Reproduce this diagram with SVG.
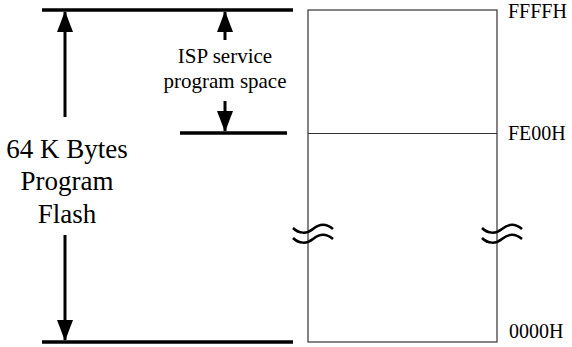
<svg xmlns="http://www.w3.org/2000/svg" width="572" height="347" viewBox="0 0 572 347">
<style>
.t{font-family:"Liberation Serif","Times New Roman",serif;fill:#000}
.thick{stroke:#000;stroke-width:3.5;fill:none}
.shaft{stroke:#000;stroke-width:3;fill:none}
.thin{stroke:#333;stroke-width:1.2;fill:none}
.wave{stroke:#000;stroke-width:2.5;fill:none}
</style>
<defs>
<marker id="ah" viewBox="0 0 21 16" refX="20" refY="8" markerUnits="userSpaceOnUse" markerWidth="21" markerHeight="16" orient="auto">
<path d="M0,0 L21,8 L0,16 Z" fill="#000"/>
</marker>
</defs>
<rect width="572" height="347" fill="#fff"/>
<g id="memory">
<rect x="308" y="10" width="189" height="332" class="thin"/>
<line x1="308" y1="133.5" x2="497" y2="133.5" class="thin"/>
</g>
<g id="breaks">
<path class="wave" d="M293,228 C299,234 307,234 313,229 C319,224 326,223 333,229"/>
<path class="wave" d="M293,238 C299,244 307,244 313,239 C319,234 326,233 333,239"/>
<path class="wave" d="M482,228 C488,234 496,234 502,229 C508,224 515,223 522,229"/>
<path class="wave" d="M482,238 C488,244 496,244 502,239 C508,234 515,233 522,239"/>
</g>
<g id="bounds">
<line x1="42" y1="10" x2="293" y2="10" class="thick"/>
<line x1="180" y1="133" x2="287" y2="133" class="thick"/>
<line x1="42" y1="342" x2="293" y2="342" class="thick"/>
</g>
<g id="connectors">
<line x1="65" y1="117" x2="65" y2="12" class="shaft" marker-end="url(#ah)"/>
<line x1="65" y1="235" x2="65" y2="340" class="shaft" marker-end="url(#ah)"/>
<line x1="225" y1="40" x2="225" y2="12" class="shaft" marker-end="url(#ah)"/>
<line x1="225" y1="101" x2="225" y2="131" class="shaft" marker-end="url(#ah)"/>
</g>
<g id="labels">
<text class="t" x="225" y="63" font-size="21" text-anchor="middle">ISP service</text>
<text class="t" x="225" y="88" font-size="21" text-anchor="middle">program space</text>
<text class="t" x="67" y="158" font-size="27" text-anchor="middle">64 K Bytes</text>
<text class="t" x="67" y="190" font-size="27" text-anchor="middle">Program</text>
<text class="t" x="67" y="223" font-size="27" text-anchor="middle">Flash</text>
<text class="t" x="508" y="18" font-size="20">FFFFH</text>
<text class="t" x="508" y="140" font-size="20">FE00H</text>
<text class="t" x="509" y="338" font-size="20">0000H</text>
</g>
</svg>
